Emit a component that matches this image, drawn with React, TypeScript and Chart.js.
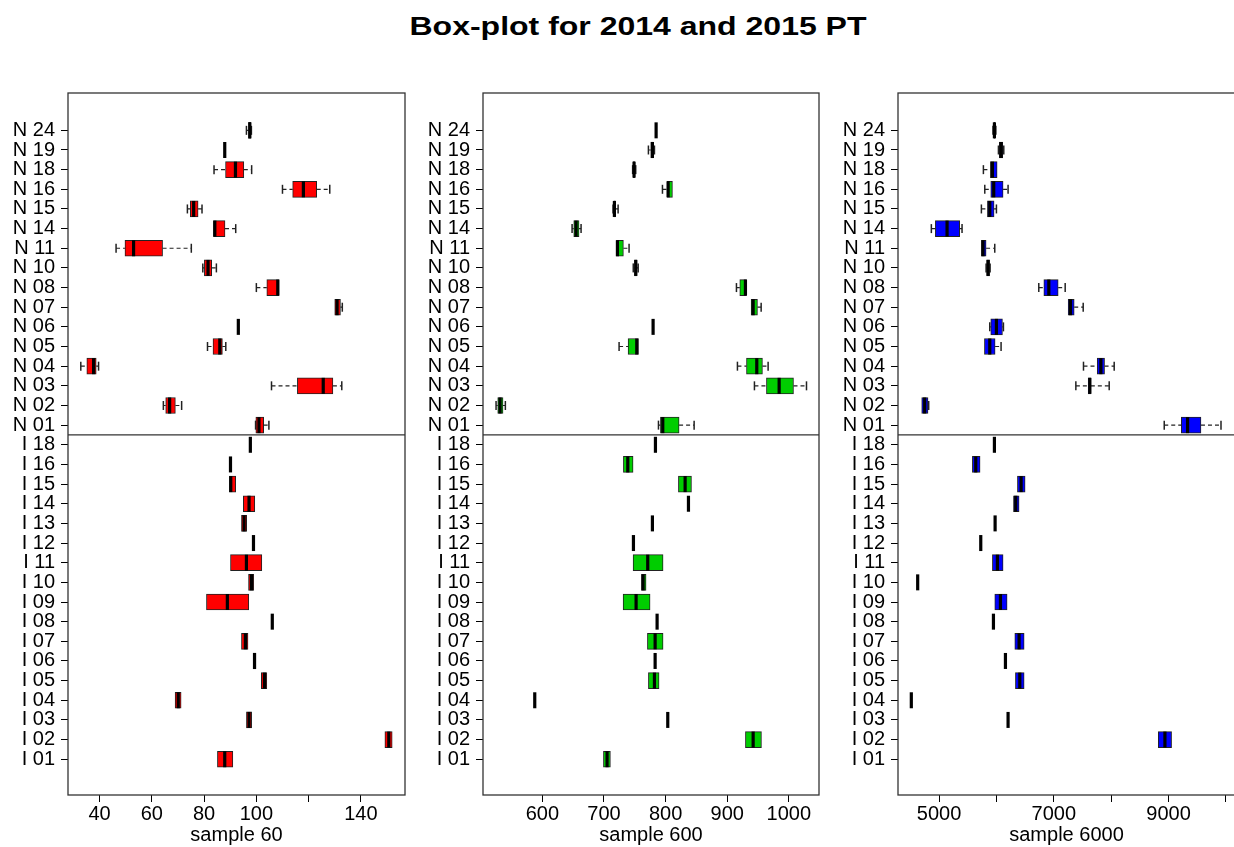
import React, { useEffect, useRef } from 'react';
import { Chart, registerables } from 'chart.js';

Chart.register(...registerables);

const FONT = "'Liberation Sans', Arial, Helvetica, sans-serif";

// Row labels from bottom (index 0) to top (index 32)
const rowLabels = [
  'I 01', 'I 02', 'I 03', 'I 04', 'I 05', 'I 06', 'I 07', 'I 08', 'I 09',
  'I 10', 'I 11', 'I 12', 'I 13', 'I 14', 'I 15', 'I 16', 'I 18',
  'N 01', 'N 02', 'N 03', 'N 04', 'N 05', 'N 06', 'N 07', 'N 08',
  'N 10', 'N 11', 'N 14', 'N 15', 'N 16', 'N 18', 'N 19', 'N 24',
];

// sample 60
const s60Min = [85.1, 149.2, 96.2, 68.9, 101.9, 98.8, 94.3, 106.1, 80.9, 97.0, 90.1, 98.9, 94.3, 95.0, 89.7, 90.1, 97.7, 99.7, 64.4, 105.8, 32.8, 81.3, 93.1, 130.0, 100.0, 79.5, 46.3, 83.6, 73.6, 110.0, 83.8, 87.9, 96.2];
const s60Q1 = [85.1, 149.2, 96.2, 68.9, 101.9, 98.8, 94.3, 106.1, 80.9, 97.0, 90.1, 98.9, 94.3, 95.0, 89.7, 90.1, 97.7, 99.8, 65.3, 115.7, 35.1, 83.4, 93.1, 130.0, 104.0, 80.1, 49.7, 83.6, 74.7, 113.9, 88.2, 87.9, 97.0];
const s60Med = [87.9, 150.7, 97.2, 70.1, 103.1, 99.3, 95.8, 106.1, 88.9, 98.1, 96.2, 98.9, 95.3, 97.2, 90.2, 90.1, 97.7, 101.0, 66.8, 125.6, 37.7, 86.0, 93.1, 130.9, 108.2, 81.5, 53.0, 84.1, 76.0, 118.0, 92.0, 87.9, 97.5];
const s60Q3 = [91.0, 152.0, 98.2, 71.2, 104.0, 99.8, 96.8, 106.1, 97.1, 99.0, 102.1, 98.9, 96.3, 99.4, 92.1, 90.1, 97.7, 102.8, 69.0, 129.3, 38.7, 87.0, 93.1, 132.2, 108.7, 82.9, 64.1, 88.0, 77.7, 123.1, 95.2, 87.9, 97.9];
const s60Max = [91.0, 152.0, 98.2, 71.2, 104.0, 99.8, 96.8, 106.1, 97.1, 99.0, 102.1, 98.9, 96.3, 99.4, 92.1, 90.1, 97.7, 104.8, 71.4, 132.7, 39.6, 88.3, 93.1, 132.9, 108.7, 84.7, 75.1, 92.1, 79.2, 128.1, 98.2, 87.9, 98.1];

// sample 600
const s600Min = [699.1, 929.6, 803.5, 587.6, 772.1, 783.0, 770.5, 786.2, 731.0, 760.8, 747.2, 747.8, 778.6, 837.1, 820.8, 731.5, 783.5, 788.4, 524.8, 944.2, 916.6, 724.5, 779.7, 938.8, 915.0, 747.5, 720.2, 648.2, 714.7, 794.9, 746.5, 772.1, 784.6];
const s600Q1 = [699.1, 929.6, 803.5, 587.6, 772.1, 783.0, 770.5, 786.2, 731.0, 760.8, 747.2, 747.8, 778.6, 837.1, 820.8, 731.5, 783.5, 791.6, 527.5, 963.7, 931.3, 739.1, 779.7, 938.8, 920.4, 749.5, 720.2, 650.9, 716.0, 802.4, 747.5, 776.0, 784.6];
const s600Med = [705.0, 942.1, 803.5, 587.6, 781.9, 783.0, 783.0, 786.2, 752.1, 763.5, 771.0, 747.8, 778.6, 837.1, 831.7, 738.6, 783.5, 795.4, 531.3, 984.3, 948.0, 753.2, 779.7, 942.1, 929.6, 751.6, 721.8, 654.7, 716.9, 804.1, 748.8, 778.6, 784.6];
const s600Q3 = [710.4, 955.6, 803.5, 587.6, 789.4, 783.0, 795.9, 786.2, 774.8, 768.3, 795.9, 747.8, 778.6, 837.1, 842.0, 747.2, 783.5, 821.9, 536.1, 1007.6, 957.2, 755.9, 779.7, 949.1, 931.3, 753.5, 731.5, 659.5, 718.5, 811.1, 750.0, 780.0, 784.6];
const s600Max = [710.4, 955.6, 803.5, 587.6, 789.4, 783.0, 795.9, 786.2, 774.8, 768.3, 795.9, 747.8, 778.6, 837.1, 842.0, 747.2, 783.5, 846.3, 539.9, 1028.7, 966.4, 755.9, 779.7, 955.1, 931.3, 755.5, 740.7, 662.8, 722.9, 811.1, 751.5, 781.9, 784.6];

// sample 6000 (no value for I 01)
const s6000Min = [null, 8820, 6203, 4517, 6331, 6157, 6320, 5948, 5971, 4628, 5930, 5727, 5977, 6297, 6366, 5581, 5965, 8924, 4698, 7384, 7517, 5791, 5884, 7250, 6738, 5820, 5738, 4866, 5738, 5797, 5773, 6035, 5940];
const s6000Q1 = [null, 8820, 6203, 4517, 6331, 6157, 6320, 5948, 5971, 4628, 5930, 5727, 5977, 6297, 6366, 5581, 5965, 9221, 4698, 7599, 7756, 5791, 5901, 7250, 6826, 5830, 5738, 4936, 5843, 5901, 5895, 6050, 5955];
const s6000Med = [null, 8936, 6203, 4517, 6407, 6157, 6395, 5948, 6070, 4628, 6017, 5727, 5977, 6337, 6430, 5640, 5965, 9331, 4750, 7628, 7820, 5884, 6000, 7291, 6913, 5855, 5767, 5140, 5884, 5953, 5930, 6081, 5965];
const s6000Q3 = [null, 9052, 6203, 4517, 6483, 6157, 6483, 5948, 6186, 4628, 6116, 5727, 5977, 6395, 6500, 5715, 5965, 9564, 4808, 7645, 7884, 5977, 6105, 7355, 7076, 5880, 5820, 5360, 5959, 6116, 6012, 6110, 5975];
const s6000Max = [null, 9052, 6203, 4517, 6483, 6157, 6483, 5948, 6186, 4628, 6116, 5727, 5977, 6395, 6500, 5715, 5965, 9913, 4820, 7965, 8052, 6081, 6122, 7512, 7198, 5890, 5971, 5401, 6000, 6203, 6012, 6128, 5990];

// Axis ticks and which of them carry a label
const ticks60 = [40, 60, 80, 100, 120, 140];
const labeled60 = [40, 60, 80, 100, 140];
const ticks600 = [600, 700, 800, 900, 1000];
const labeled600 = [600, 700, 800, 900, 1000];
const ticks6000 = [5000, 6000, 7000, 8000, 9000, 10000];
const labeled6000 = [5000, 7000, 9000];

type Stats = { min: (number | null)[]; q1: (number | null)[]; med: (number | null)[]; q3: (number | null)[]; max: (number | null)[] };

type PanelProps = {
  left: number;
  width: number;
  plotLeftOffset: number;
  rightPad: number;
  xMin: number;
  xMax: number;
  tickValues: number[];
  labeledValues: number[];
  axisTitle: string;
  fill: string;
  stats: Stats;
};

const Y_MIN = -1.82;
const Y_MAX = 33.9;
const GROUP_SPLIT = 16.5;

// Plot frame plus the rule separating the N and I groups
const framePlugin = {
  id: 'frame',
  afterDatasetsDraw(chart: any) {
    const { ctx, chartArea, scales } = chart;
    const ySplit = scales.y.getPixelForValue(GROUP_SPLIT);
    ctx.save();
    ctx.strokeStyle = '#333';
    ctx.lineWidth = 1.3;
    ctx.strokeRect(chartArea.left, chartArea.top, chartArea.right - chartArea.left, chartArea.bottom - chartArea.top);
    ctx.beginPath();
    ctx.moveTo(chartArea.left, ySplit);
    ctx.lineTo(chartArea.right, ySplit);
    ctx.stroke();
    ctx.restore();
  },
};

function BoxPanel(p: PanelProps) {
  const ref = useRef<HTMLCanvasElement | null>(null);

  useEffect(() => {
    if (!ref.current) return;
    const s = p.stats;
    const boxes: any[] = [];
    const whiskers: any[] = [];
    const caps: any[] = [];
    const medians: any[] = [];
    rowLabels.forEach((_, i) => {
      const mn = s.min[i], a = s.q1[i], m = s.med[i], b = s.q3[i], mx = s.max[i];
      if (m == null || a == null || b == null || mn == null || mx == null) return;
      boxes.push({ x: [a, b], y: i });
      medians.push({ x: m, y: i });
      if (mn < a) {
        whiskers.push({ x: mn, y: i }, { x: a, y: i }, { x: null, y: null });
        caps.push({ x: mn, y: i });
      }
      if (mx > b) {
        whiskers.push({ x: b, y: i }, { x: mx, y: i }, { x: null, y: null });
        caps.push({ x: mx, y: i });
      }
    });

    const chart = new Chart(ref.current, {
      type: 'bar',
      data: {
        datasets: [
          {
            type: 'bar',
            indexAxis: 'y',
            data: boxes,
            backgroundColor: p.fill,
            borderColor: '#222',
            borderWidth: 1,
            borderSkipped: false,
            barThickness: 16,
            order: 3,
          } as any,
          {
            type: 'line',
            data: whiskers,
            borderColor: '#222',
            borderWidth: 1.2,
            borderDash: [4, 3],
            pointRadius: 0,
            fill: false,
            spanGaps: false,
            tension: 0,
            order: 2,
          } as any,
          {
            type: 'scatter',
            data: caps,
            pointStyle: 'line',
            pointRotation: 90,
            pointRadius: 4.5,
            pointBorderWidth: 1.5,
            pointBorderColor: '#222',
            order: 1,
          } as any,
          {
            type: 'scatter',
            data: medians,
            pointStyle: 'line',
            pointRotation: 90,
            pointRadius: 8,
            pointBorderWidth: 3.2,
            pointBorderColor: '#000',
            order: 0,
          } as any,
        ],
      },
      options: {
        responsive: false,
        animation: false,
        events: [],
        layout: { padding: { top: 93, right: p.rightPad, left: 0, bottom: 0 }, autoPadding: false },
        plugins: { legend: { display: false }, tooltip: { enabled: false }, title: { display: false } },
        scales: {
          x: {
            type: 'linear',
            min: p.xMin,
            max: p.xMax,
            offset: false,
            beginAtZero: false,
            afterBuildTicks: (scale: any) => {
              scale.ticks = p.tickValues.map((v) => ({ value: v }));
            },
            afterFit: (scale: any) => {
              scale.height = 52;
            },
            ticks: {
              autoSkip: false,
              maxRotation: 0,
              padding: 0,
              color: '#000',
              font: { family: FONT, size: 20 },
              callback: (v: any) => (p.labeledValues.includes(Number(v)) ? String(v) : ''),
            },
            grid: { display: true, drawOnChartArea: false, drawTicks: true, tickLength: 7, tickColor: '#000', offset: false },
            border: { display: false },
            title: { display: true, text: p.axisTitle, color: '#000', font: { family: FONT, size: 20 }, padding: { top: 0, bottom: 0 } },
          },
          y: {
            type: 'linear',
            min: Y_MIN,
            max: Y_MAX,
            offset: false,
            afterBuildTicks: (scale: any) => {
              scale.ticks = rowLabels.map((_, i) => ({ value: i }));
            },
            afterFit: (scale: any) => {
              scale.width = p.plotLeftOffset;
            },
            ticks: {
              autoSkip: false,
              padding: 6,
              color: '#000',
              font: { family: FONT, size: 20 },
              callback: (v: any) => rowLabels[Number(v)] ?? '',
            },
            grid: { display: true, drawOnChartArea: false, drawTicks: true, tickLength: 7, tickColor: '#000', offset: false },
            border: { display: false },
          },
        },
      } as any,
      plugins: [framePlugin],
    });
    return () => chart.destroy();
  }, []);

  return (
    <canvas
      ref={ref}
      width={p.width}
      height={847}
      style={{ position: 'absolute', left: p.left, top: 0, width: p.width, height: 847 }}
    />
  );
}

export default function App() {
  return (
    <div
      style={{
        position: 'fixed',
        left: 0,
        top: 0,
        width: 1234,
        height: 847,
        overflow: 'hidden',
        background: '#fff',
      }}
    >
      <div
        style={{
          position: 'absolute',
          left: 638,
          top: 14,
          fontFamily: FONT,
          fontWeight: 'bold',
          fontSize: 25,
          lineHeight: '25px',
          whiteSpace: 'nowrap',
          color: '#000',
          transform: 'translateX(-50%) scaleX(1.28)',
        }}
      >
        Box-plot for 2014 and 2015 PT
      </div>
      <BoxPanel
        left={0}
        width={410}
        plotLeftOffset={68}
        rightPad={5}
        xMin={27.9}
        xMax={156.9}
        tickValues={ticks60}
        labeledValues={labeled60}
        axisTitle="sample 60"
        fill="#ff0000"
        stats={{ min: s60Min, q1: s60Q1, med: s60Med, q3: s60Q3, max: s60Max }}
      />
      <BoxPanel
        left={415}
        width={409}
        plotLeftOffset={68}
        rightPad={5}
        xMin={503.6}
        xMax={1049}
        tickValues={ticks600}
        labeledValues={labeled600}
        axisTitle="sample 600"
        fill="#00cd00"
        stats={{ min: s600Min, q1: s600Q1, med: s600Med, q3: s600Q3, max: s600Max }}
      />
      <BoxPanel
        left={830}
        width={410}
        plotLeftOffset={68}
        rightPad={5}
        xMin={4285}
        xMax={10157}
        tickValues={ticks6000}
        labeledValues={labeled6000}
        axisTitle="sample 6000"
        fill="#0000ff"
        stats={{ min: s6000Min, q1: s6000Q1, med: s6000Med, q3: s6000Q3, max: s6000Max }}
      />
    </div>
  );
}
